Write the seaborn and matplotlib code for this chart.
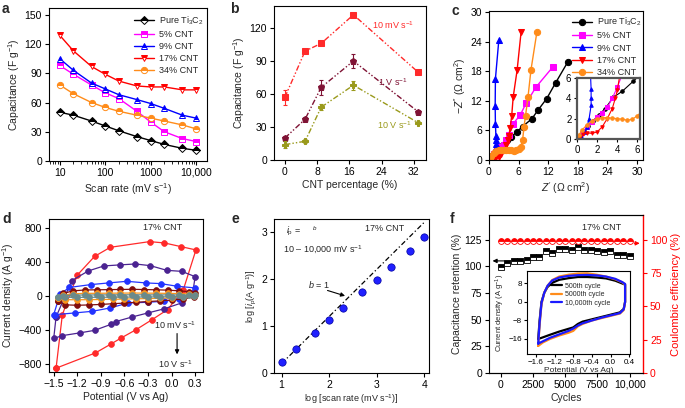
import matplotlib
matplotlib.use("Agg")
import matplotlib.pyplot as plt
import seaborn as sns

# ---------------- panel a: capacitance vs scan rate ----------------
scan_rate = [10, 20, 50, 100, 200, 500, 1000, 2000, 5000, 10000]
cap_pure = [50, 47, 41, 36, 31, 25, 21, 17, 13, 11]
cap_5 = [98, 89, 78, 70, 64, 51, 40, 30, 23, 20]
cap_9 = [105, 93, 80, 74, 68, 63, 59, 54, 47, 44]
cap_17 = [129, 113, 97, 89, 82, 77, 76, 76, 73, 73]
cap_34 = [78, 69, 60, 55, 51, 47, 44, 41, 37, 33]
sample_labels = ["Pure Ti$_3$C$_2$", "5% CNT", "9% CNT", "17% CNT", "34% CNT"]

# ---------------- panel b: capacitance vs CNT percentage ----------------
cnt_pct = [0, 5, 9, 17, 33]
b_10mv = [57, 99, 106, 132, 80]
b_10mv_err = [7, 1, 1, 2, 2]
b_1v = [20, 37, 66, 90, 44]
b_1v_err = [2, 2, 7, 6, 1]
b_10v = [14, 17, 48, 68, 34]
b_10v_err = [3, 2, 3, 4, 1]

# ---------------- panel c: Nyquist plots ----------------
nyq_pure_x = [0, 0.3, 0.7, 1.1, 1.6, 2.2, 2.8, 3.6, 4.5, 5.6, 6.8, 8.7, 9.9, 11.7, 13.5, 16]
nyq_pure_y = [0, 0.3, 0.8, 1.3, 1.8, 2.4, 3.0, 4.1, 4.7, 5.7, 6.8, 8.4, 10.1, 12.5, 15.7, 20]
nyq_5_x = [0, 0.5, 1.0, 1.5, 2.0, 2.5, 3.0, 3.5, 4.0, 4.9, 6.3, 7.5, 9.5, 13]
nyq_5_y = [0, 0.6, 1.2, 1.7, 2.2, 2.6, 3.1, 4.0, 5.1, 7.4, 9.1, 11.5, 14.8, 19]
nyq_9_x = [0, 0.4, 0.8, 1.0, 1.2, 1.4, 1.4, 1.4, 1.3, 1.25, 1.3, 2.0]
nyq_9_y = [0, 0.3, 0.7, 1.2, 2.0, 3.3, 4.0, 4.9, 7.3, 11, 16.5, 24.5]
nyq_17_x = [0, 0.3, 0.6, 1.0, 1.5, 2.0, 2.5, 3.0, 3.5, 3.8, 4.0, 4.3, 4.6, 4.9, 5.7, 6.5]
nyq_17_y = [0, 0.2, 0.5, 0.6, 0.55, 0.7, 1.2, 2.0, 3.0, 4.0, 4.8, 6.6, 9.0, 12.8, 18.3, 26]
nyq_34_x = [0, 0.2, 0.5, 1.0, 1.5, 2.0, 2.5, 3.0, 3.5, 4.0, 4.5, 5.0, 5.5, 6.0, 6.4, 6.8, 7.1,
            7.4, 7.9, 8.5, 9.7]
nyq_34_y = [0, 0.4, 0.9, 1.4, 1.8, 2.0, 2.1, 2.1, 2.05, 2.0, 1.95, 1.85, 1.95, 2.3, 2.7, 4.0, 6.8,
            9.0, 12.8, 18.3, 26]

# ---------------- panel d: CV loops of 17% CNT ----------------
cv_red_x = [-1.47, -1.39, -1.20, -0.98, -0.78, -0.28, -0.09, 0.12, 0.31, 0.15, -0.05, -0.25,
            -0.45, -0.64, -0.77, -0.97, -1.47]
cv_red_y = [-850, -220, 245, 465, 572, 639, 623, 580, 541, 74, -160, -280, -396, -494, -565,
            -671, -850]
cv_purple_x = [-1.47, -1.27, -1.06, -0.86, -0.66, -0.46, -0.27, -0.06, 0.13, 0.30, 0.27, 0.13,
               -0.10, -0.30, -0.50, -0.71, -0.77, -0.98, -1.17, -1.39, -1.50, -1.47]
cv_purple_y = [-247, 180, 294, 353, 365, 376, 356, 301, 289, 227, 40, -82, -153, -200, -247,
               -302, -334, -405, -435, -467, -500, -247]
cv_blue_x = [-1.50, -1.42, -1.30, -1.03, -0.80, -0.57, -0.33, -0.14, 0.07, 0.30, 0.28, 0.10,
             -0.10, -0.30, -0.55, -0.78, -1.01, -1.23, -1.48]
cv_blue_y = [-220, 20, 100, 133, 153, 172, 153, 145, 114, 94, 10, -40, -62, -75, -82, -141,
             -181, -200, -220]
cv_inner_x = [-1.45, -1.38, -1.25, -1.10, -0.95, -0.80, -0.65, -0.50, -0.35, -0.20, -0.05, 0.10,
              0.22, 0.30, 0.28, 0.15, 0.00, -0.15, -0.30, -0.45, -0.60, -0.75, -0.90, -1.05,
              -1.20, -1.35, -1.45]
cv_maroon_y = [-60, 30, 60, 70, 72, 74, 76, 78, 75, 72, 68, 60, 50, 30, -10, -35, -48, -58, -66,
               -75, -84, -92, -100, -106, -110, -105, -60]
cv_orange_y = [-30, 10, 25, 30, 31, 32, 33, 34, 33, 32, 30, 28, 25, 15, -5, -18, -24, -28, -31,
               -34, -37, -40, -42, -44, -45, -44, -30]
cv_gray_y = [-12, 4, 9, 11, 12, 12, 13, 13, 13, 12, 12, 11, 10, 6, -3, -7, -9, -11, -12, -13,
             -14, -15, -16, -16, -17, -16, -12]

# ---------------- panel e: log peak current vs log scan rate ----------------
log_rate = [1, 1.3, 1.7, 2, 2.3, 2.7, 3, 3.3, 3.7, 4]
log_ip = [0.24, 0.5, 0.85, 1.12, 1.38, 1.72, 1.98, 2.25, 2.58, 2.88]
fit_x = [1.0, 4.0]
fit_y = [0.2, 3.2]

# ---------------- panel f: cycling ----------------
cycles = [0, 500, 1000, 1500, 2000, 2500, 3000, 3500, 4000, 4500, 5000, 5500, 6000, 6500, 7000,
          7500, 8000, 8500, 9000, 9500, 10000]
retention = [99, 103, 105, 105, 106, 109, 109, 114, 112, 116, 116, 115, 118, 115, 115, 114, 113,
             114, 111, 111, 110]
coulombic = [99, 99, 99, 99, 99, 99, 99, 99, 99, 99, 99, 99, 99, 99, 99, 99, 99, 99, 99, 99, 99]
cyc_cv_x = [-1.55, -1.52, -1.48, -1.42, -1.35, -1.25, -1.1, -0.9, -0.7, -0.5, -0.3, -0.1, 0.1,
            0.25, 0.31, 0.31, 0.28, 0.2, 0.0, -0.2, -0.4, -0.6, -0.7, -0.8, -0.9, -1.1, -1.3,
            -1.45, -1.55]
cyc_cv_500 = [-16, -8, 0, 4, 6.5, 8.3, 9.6, 10.3, 10.8, 10.8, 10.6, 10.2, 9.2, 8.0, 7.5, 0, -3,
              -4.5, -5.5, -6.5, -7.5, -8.5, -9.5, -11.0, -11.6, -12.8, -14.2, -15.3, -16]
cyc_cv_5000 = [-19, -10, -1, 4, 7, 9.5, 11, 11.8, 12.3, 12.4, 11.8, 11, 9.8, 8.5, 7.5, 0, -3.5,
               -5, -6, -7, -8, -9.5, -10.5, -12.5, -13.3, -14.5, -16, -17.5, -19]
cyc_cv_10000 = [-18, -9, -0.5, 4, 7, 9.3, 10.6, 11.3, 11.6, 11.7, 11.5, 11, 10, 8.6, 7.8, 0,
                -3.2, -4.8, -5.8, -6.8, -8, -9.2, -10.2, -11.5, -12.5, -14, -15.5, -17, -18]
cyc_labels = ["500th cycle", "5000th cycle", "10,000th cycle"]

# ---------------- style ----------------
sns.set_style("ticks")
plt.rcParams["font.family"] = ["Liberation Sans", "DejaVu Sans"]
plt.rcParams["mathtext.fontset"] = "custom"
plt.rcParams["mathtext.rm"] = "Liberation Sans"
plt.rcParams["mathtext.it"] = "Liberation Sans:italic"
plt.rcParams["axes.linewidth"] = 0.8
plt.rcParams["axes.edgecolor"] = "black"
for a in ("xtick", "ytick"):
    plt.rcParams[a + ".major.size"] = 3
    plt.rcParams[a + ".major.width"] = 0.8
    plt.rcParams[a + ".labelsize"] = 7.5
    plt.rcParams[a + ".major.pad"] = 2
    plt.rcParams[a + ".color"] = "black"
plt.rcParams["axes.labelsize"] = 7.5
plt.rcParams["axes.labelpad"] = 2

W, H = 685, 408
fig = plt.figure(figsize=(W / 100, H / 100), dpi=100)


def add_ax(l, t, r, b):
    return fig.add_axes([l / W, 1 - b / H, (r - l) / W, (b - t) / H])


def line(ax, x, y, **kw):
    sns.lineplot(x=x, y=y, ax=ax, sort=False, estimator=None, **kw)


# ================= a =================
ax = add_ax(49, 8, 207, 161)
a_series = [cap_pure, cap_5, cap_9, cap_17, cap_34]
a_colors = ["black", "#ff00ff", "#0000ff", "#ff0000", "#ff8c1a"]
a_markers = ["D", "s", "^", "v", "o"]
for ys, c, m, lab in zip(a_series, a_colors, a_markers, sample_labels):
    line(ax, scan_rate, ys, color=c, marker=m, markersize=4.5 if m != "D" else 3.8,
         fillstyle="top", markerfacecoloralt="white", markeredgecolor=c, markeredgewidth=0.7,
         linewidth=1.0, label=lab)
ax.set_xscale("log")
ax.set_xlim(5.8, 17400)
ax.set_ylim(0, 157)
ax.set_xticks([10, 100, 1000, 10000])
ax.set_xticklabels(["10", "100", "1000", "10,000"])
ax.set_yticks([0, 30, 60, 90, 120, 150])
ax.set_xlabel("Scan rate (mV s$^{-1}$)")
ax.set_ylabel("Capacitance (F g$^{-1}$)")
ax.legend(loc="upper left", bbox_to_anchor=(0.5, 1.0), frameon=False, fontsize=6.5,
          handlelength=2.2, labelspacing=0.35, borderaxespad=0.3, handletextpad=0.5)

# ================= b =================
ax = add_ax(274, 6, 426, 160)
b_sets = [(b_10mv, b_10mv_err, "#ff2a2a", "s"), (b_1v, b_1v_err, "#7f1234", "p"),
          (b_10v, b_10v_err, "#9a9a1c", "P")]
for ys, err, c, m in b_sets:
    line(ax, cnt_pct, ys, color=c, marker=m, markersize=4.5, markeredgecolor=c,
         linewidth=1.0, linestyle=(0, (4, 1.5, 1, 1.5, 1, 1.5)))
    ax.errorbar(cnt_pct, ys, yerr=err, fmt="none", ecolor=c, elinewidth=0.8, capsize=1.5,
                capthick=0.8)
ax.set_xlim(-2.7, 35)
ax.set_ylim(0, 140)
ax.set_xticks([0, 8, 16, 24, 32])
ax.set_yticks([0, 30, 60, 90, 120])
ax.set_xlabel("CNT percentage (%)")
ax.set_ylabel("Capacitance (F g$^{-1}$)")
ax.text(26.8, 123, "10 mV s$^{-1}$", color="#ff2a2a", fontsize=6.5, ha="center", va="center")
ax.text(26.8, 71, "1 V s$^{-1}$", color="#7f1234", fontsize=6.5, ha="center", va="center")
ax.text(27.2, 32, "10 V s$^{-1}$", color="#9a9a1c", fontsize=6.5, ha="center", va="center")

# ================= c =================
ax = add_ax(489, 11, 643, 160)
c_series = [(nyq_pure_x, nyq_pure_y), (nyq_5_x, nyq_5_y), (nyq_9_x, nyq_9_y),
            (nyq_17_x, nyq_17_y), (nyq_34_x, nyq_34_y)]
c_markers = ["o", "s", "^", "v", "o"]
for (xs, ys), c, m, lab in zip(c_series, a_colors, c_markers, sample_labels):
    line(ax, xs, ys, color=c, marker=m, markersize=4.5, markeredgecolor=c, linewidth=1.0,
         label=lab)
ax.set_xlim(0, 31.2)
ax.set_ylim(0, 30.3)
ax.set_xticks([0, 6, 12, 18, 24, 30])
ax.set_yticks([0, 6, 12, 18, 24, 30])
ax.set_xlabel("$Z'$ ($\\Omega$ cm$^{2}$)")
ax.set_ylabel("$-Z''$ ($\\Omega$ cm$^{2}$)")
ax.legend(loc="upper left", bbox_to_anchor=(0.5, 1.01), frameon=False, fontsize=6.5,
          handlelength=2.2, labelspacing=0.35, borderaxespad=0.3, handletextpad=0.5)

axi = add_ax(577, 78, 640, 139)
for (xs, ys), c, m in zip(c_series, a_colors, c_markers):
    line(axi, xs, ys, color=c, marker=m, markersize=2.5, markeredgecolor=c, linewidth=0.8)
axi.set_xlim(0, 6.25)
axi.set_ylim(0, 6)
axi.set_xticks([0, 2, 4, 6])
axi.set_yticks([0, 2, 4, 6])
axi.tick_params(labelsize=7, length=2.5, pad=1.5)
for s in axi.spines.values():
    s.set_linewidth(1.6)
    s.set_color("#555555")

# ================= d =================
ax = add_ax(49, 219, 203, 372)
d_sets = [(cv_red_x, cv_red_y, "#ff2a2a"), (cv_purple_x, cv_purple_y, "#4b2391"),
          (cv_blue_x, cv_blue_y, "#2233ff"), (cv_inner_x, cv_maroon_y, "#800d0d"),
          (cv_inner_x, cv_orange_y, "#f7941d"), (cv_inner_x, cv_gray_y, "#6b8a8a")]
for xs, ys, c in d_sets:
    line(ax, xs, ys, color=c, marker="o", markersize=4.2, markeredgecolor=c,
         markeredgewidth=0.5, linewidth=0.9)
ax.set_xlim(-1.56, 0.40)
ax.set_ylim(-895, 905)
ax.set_xticks([-1.5, -1.2, -0.9, -0.6, -0.3, 0.0, 0.3])
ax.set_yticks([-800, -400, 0, 400, 800])
ax.set_xlabel("Potential (V vs Ag)")
ax.set_ylabel("Current density (A g$^{-1}$)")
ax.text(-0.12, 800, "17% CNT", fontsize=6.5, ha="center", va="center")
ax.text(0.045, -349, "10 mV s$^{-1}$", fontsize=6.5, ha="center", va="center")
ax.text(0.045, -800, "10 V s$^{-1}$", fontsize=6.5, ha="center", va="center")
ax.annotate("", xy=(0.07, -720), xytext=(0.07, -410),
            arrowprops=dict(arrowstyle="-|>", color="black", lw=0.8, mutation_scale=6))

# ================= e =================
ax = add_ax(274, 219, 429, 373)
line(ax, fit_x, fit_y, color="black", linewidth=0.9, linestyle=(0, (4, 2, 1, 2)))
sns.scatterplot(x=log_rate, y=log_ip, ax=ax, color="#2020ff", s=28, edgecolor="#0000a0",
                linewidth=0.5, zorder=3)
ax.set_xlim(0.84, 4.1)
ax.set_ylim(0, 3.27)
ax.set_xticks([1, 2, 3, 4])
ax.set_yticks([0, 1, 2, 3])
ax.set_xlabel("log [scan rate (mV s$^{-1}$)]", fontsize=6.5)
ax.set_ylabel("log [$i_{\\rm p}$(A g$^{-1}$)]", fontsize=6.5)
ax.text(1.1, 3.0, "$i_{\\rm p}$ =", fontsize=6.5, ha="left", va="center")
ax.text(1.69, 3.07, "$b$", fontsize=4.5, ha="center", va="center")
ax.text(1.03, 2.61, "10 \u2013 10,000 mV s$^{-1}$", fontsize=6.5, ha="left", va="center")
ax.text(2.76, 3.07, "17% CNT", fontsize=6.5, ha="left", va="center")
ax.text(1.56, 1.87, "$b$ = 1", fontsize=6.5, ha="left", va="center")
ax.annotate("", xy=(2.39, 1.62), xytext=(1.91, 1.77),
            arrowprops=dict(arrowstyle="-|>", color="black", lw=0.8, mutation_scale=6))

# ================= f =================
ax = add_ax(489, 215, 643, 373)
axr = ax.twinx()
line(ax, cycles, retention, color="black", marker="s", markersize=4.2, fillstyle="top",
     markerfacecoloralt="white", markeredgecolor="black", markeredgewidth=0.6, linewidth=0)
line(axr, cycles, coulombic, color="red", marker="o", markersize=4.2, fillstyle="top",
     markerfacecoloralt="white", markeredgecolor="red", markeredgewidth=0.6, linewidth=0)
ax.set_xlim(-910, 11040)
ax.set_ylim(0, 148)
axr.set_ylim(0, 148 * 0.8)
ax.set_xticks([0, 2500, 5000, 7500, 10000])
ax.set_xticklabels(["0", "2500", "5000", "7500", "10,000"])
ax.set_yticks([0, 25, 50, 75, 100, 125])
axr.set_yticks([0, 25, 50, 75, 100])
ax.set_xlabel("Cycles")
ax.set_ylabel("Capacitance retention (%)")
axr.set_ylabel("Coulombic efficiency (%)", color="red", fontsize=8, labelpad=3)
axr.tick_params(axis="y", colors="red", labelcolor="red")
ax.spines["right"].set_visible(False)
axr.spines["right"].set_color("red")
axr.spines["right"].set_linewidth(1.0)
axr.spines["left"].set_visible(False)
ax.text(7854, 136, "17% CNT", fontsize=6.5, ha="center", va="center")
ax.annotate("", xy=(-850, 105), xytext=(500, 105),
            arrowprops=dict(arrowstyle="-|>", color="black", lw=0.8, mutation_scale=6))
ax.annotate("", xy=(11000, 121.5), xytext=(10150, 121.5), annotation_clip=False,
            arrowprops=dict(arrowstyle="-|>", color="red", lw=0.8, mutation_scale=6))

axf = add_ax(527, 271, 630, 354)
axf.set_zorder(5)
for ys, c, lab in zip([cyc_cv_500, cyc_cv_5000, cyc_cv_10000], ["black", "#ff8c1a", "#1a1aff"],
                      cyc_labels):
    line(axf, cyc_cv_x, ys, color=c, linewidth=1.6, label=lab)
axf.set_xlim(-1.79, 0.415)
axf.set_ylim(-22.5, 13.4)
axf.set_xticks([-1.6, -1.2, -0.8, -0.4, 0.0, 0.4])
axf.set_yticks([-16, -8, 0, 8])
axf.tick_params(labelsize=5.8, length=2, pad=1.5)
axf.set_xlabel("Potential (V vs Ag)", fontsize=6, labelpad=1)
axf.set_ylabel("Current density (A g$^{-1}$)", fontsize=5.5, labelpad=1)
axf.legend(loc="upper left", bbox_to_anchor=(0.2, 0.9), frameon=False, fontsize=5,
           handlelength=1.6, labelspacing=0.2, borderaxespad=0.1, handletextpad=0.4)

# panel letters
for letter, (px, py) in zip("abcdef", [(2, 2), (230, 2), (452, 4), (2, 212), (232, 212),
                                        (450, 212)]):
    fig.text(px / W, 1 - py / H, letter, fontsize=10, fontweight="bold", va="top", ha="left")

fig.savefig("out.png", dpi=100)
